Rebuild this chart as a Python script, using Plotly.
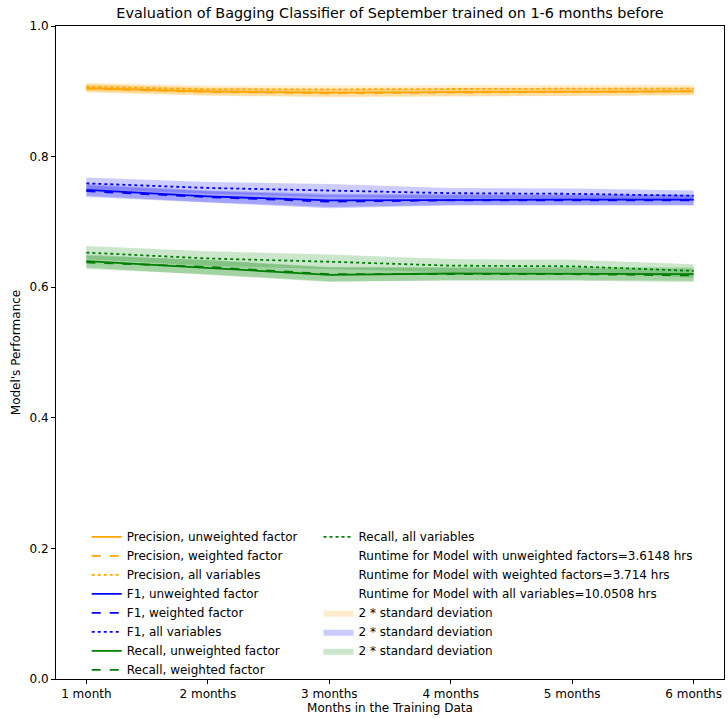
import plotly.graph_objects as go

months = ["1 month", "2 months", "3 months", "4 months", "5 months", "6 months"]

prec_unw = [0.905, 0.900, 0.898, 0.899, 0.899, 0.900]
prec_w = [0.904, 0.899, 0.897, 0.898, 0.899, 0.900]
prec_all = [0.907, 0.903, 0.903, 0.904, 0.904, 0.904]
prec_std = [0.006, 0.006, 0.006, 0.006, 0.006, 0.006]

f1_unw = [0.749, 0.739, 0.733, 0.734, 0.734, 0.734]
f1_w = [0.747, 0.738, 0.731, 0.733, 0.733, 0.733]
f1_all = [0.759, 0.752, 0.748, 0.744, 0.743, 0.740]
f1_std = [0.009, 0.009, 0.010, 0.008, 0.008, 0.008]

rec_unw = [0.640, 0.630, 0.619, 0.621, 0.621, 0.620]
rec_w = [0.638, 0.631, 0.620, 0.620, 0.620, 0.618]
rec_all = [0.653, 0.644, 0.639, 0.633, 0.632, 0.625]
rec_std = [0.010, 0.011, 0.011, 0.010, 0.010, 0.010]

runtimes = ["Runtime for Model with unweighted factors=3.6148 hrs",
            "Runtime for Model with weighted factors=3.714 hrs",
            "Runtime for Model with all variables=10.0508 hrs"]

colors = {"Precision": "orange", "F1": "blue", "Recall": "green"}
fills = {"Precision": "rgba(255,165,0,0.2)", "F1": "rgba(0,0,255,0.2)", "Recall": "rgba(0,128,0,0.2)"}

groups = [
    ("Precision", [prec_unw, prec_w, prec_all], prec_std),
    ("F1", [f1_unw, f1_w, f1_all], f1_std),
    ("Recall", [rec_unw, rec_w, rec_all], rec_std),
]
variants = ["unweighted factor", "weighted factor", "all variables"]
dashes = ["solid", "dash", "dot"]

fig = go.Figure()

band_traces = []
for name, series, std in groups:
    for k, s in enumerate(series):
        upper = [v + e for v, e in zip(s, std)]
        lower = [v - e for v, e in zip(s, std)]
        tr = go.Scatter(x=months + months[::-1], y=upper + lower[::-1], fill="toself",
                        fillcolor=fills[name], line=dict(width=0, color="rgba(0,0,0,0)"),
                        mode="lines", hoverinfo="skip",
                        name="2 * standard deviation", showlegend=(k == 0), legend="legend2")
        band_traces.append(tr)
for tr in band_traces:
    if not tr.showlegend:
        fig.add_trace(tr)

count = 0
for name, series, std in groups:
    for s, var, d in zip(series, variants, dashes):
        leg = "legend" if count < 8 else "legend2"
        fig.add_trace(go.Scatter(x=months, y=s, mode="lines",
                                 line=dict(color=colors[name], width=1.8, dash=d),
                                 name=f"{name}, {var}", legend=leg))
        count += 1

for r in runtimes:
    fig.add_trace(go.Scatter(x=[months[0]], y=[None], mode="lines",
                             line=dict(color="rgba(0,0,0,0)", width=0),
                             name=r, legend="legend2"))
for tr in band_traces:
    if tr.showlegend:
        fig.add_trace(tr)

font = dict(family="DejaVu Sans", size=12, color="black")
fig.update_layout(
    width=728, height=719,
    margin=dict(l=56, r=4, t=26, b=40),
    plot_bgcolor="white", paper_bgcolor="white",
    font=font,
    title=dict(text="Evaluation of Bagging Classifier of September trained on 1-6 months before",
               x=0.5, xanchor="center", xref="paper", y=0.982, yanchor="middle",
               font=dict(family="DejaVu Sans", size=14.4, color="black")),
    xaxis=dict(type="category", range=[-0.25, 5.25], showgrid=False, zeroline=False,
               showline=True, linecolor="black", linewidth=1, mirror=True,
               ticks="outside", ticklen=4, tickcolor="black",
               title=dict(text="Months in the Training Data", standoff=2, font=font)),
    yaxis=dict(range=[0, 1], tickvals=[0, 0.2, 0.4, 0.6, 0.8, 1.0], tickformat=".1f",
               showgrid=False, zeroline=False,
               showline=True, linecolor="black", linewidth=1, mirror=True,
               ticks="outside", ticklen=4, tickcolor="black",
               title=dict(text="Model's Performance", standoff=6, font=font)),
    legend=dict(x=0.046, y=0.24, xanchor="left", yanchor="top", bgcolor="rgba(0,0,0,0)",
                font=font, tracegroupgap=0, itemwidth=30, traceorder="normal"),
    legend2=dict(x=0.393, y=0.24, xanchor="left", yanchor="top", bgcolor="rgba(0,0,0,0)",
                 font=font, tracegroupgap=0, itemwidth=30, traceorder="normal"),
    showlegend=True,
)

fig.write_html("out.html", config={"displayModeBar": False},
               post_script="document.body.style.margin='0';")
